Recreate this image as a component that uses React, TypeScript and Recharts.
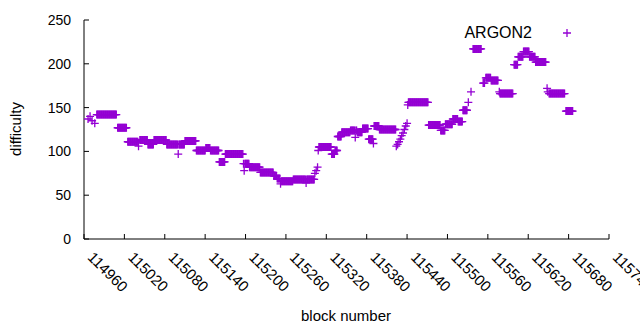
import React from "react";
import { ScatterChart, Scatter, XAxis, YAxis, Legend } from "recharts";

const FONT = "'Liberation Sans', Arial, sans-serif";
const PURPLE = "#9400d3";

const X_TICKS = [
  114960, 115020, 115080, 115140, 115200, 115260, 115320,
  115380, 115440, 115500, 115560, 115620, 115680, 115740,
];
const Y_TICKS = [0, 50, 100, 150, 200, 250];

// runs of blocks with the same difficulty (first block, last block, difficulty)
const RUN_FIRST = [
  114966, 114969, 114972, 114976, 114979, 115010, 115025, 115041, 115043, 115055,
  115064, 115083, 115100, 115101, 115110, 115127, 115141, 115148, 115161, 115170,
  115197, 115198, 115199, 115206, 115222, 115242, 115247, 115252, 115253, 115271,
  115290, 115291, 115303, 115305, 115307, 115308, 115309, 115328, 115333, 115337,
  115343, 115356, 115363, 115364, 115366, 115374, 115383, 115390, 115391, 115399,
  115424, 115426, 115428, 115430, 115432, 115434, 115436, 115438, 115440, 115441,
  115442, 115472, 115490, 115497, 115508, 115516, 115523, 115531, 115535, 115538,
  115553, 115557, 115565, 115577, 115578, 115599, 115605, 115613, 115622, 115631,
  115648, 115649, 115651, 115676,
];
const RUN_LAST = [
  114966, 114969, 114972, 114976, 115008, 115023, 115040, 115041, 115054, 115063,
  115082, 115099, 115100, 115109, 115126, 115140, 115147, 115160, 115169, 115196,
  115197, 115198, 115205, 115221, 115241, 115246, 115251, 115252, 115270, 115289,
  115290, 115302, 115303, 115305, 115307, 115308, 115327, 115332, 115336, 115342,
  115355, 115362, 115363, 115365, 115373, 115382, 115389, 115390, 115398, 115423,
  115424, 115426, 115428, 115430, 115432, 115434, 115436, 115438, 115440, 115441,
  115471, 115489, 115496, 115507, 115515, 115522, 115529, 115531, 115535, 115550,
  115555, 115564, 115575, 115577, 115597, 115604, 115612, 115621, 115630, 115646,
  115648, 115649, 115674, 115686,
];
const RUN_DIFF = [
  137, 140, 135, 132, 142, 127, 111, 106, 113, 108,
  113, 108, 97, 108, 112, 101, 104, 101, 88, 97,
  86, 78, 86, 82, 76, 72, 69, 63, 66, 68,
  64, 68, 75, 78, 82, 101, 105, 97, 101, 117,
  122, 124, 116, 124, 122, 126, 114, 109, 129, 125,
  106, 108, 111, 114, 118, 121, 125, 129, 132, 153,
  156, 130, 124, 131, 137, 134, 147, 156, 168, 217,
  178, 184, 181, 168, 166, 199, 208, 214, 208, 202,
  172, 168, 166, 146,
];

const points: { block: number; difficulty: number }[] = [];
RUN_FIRST.forEach((first, i) => {
  for (let b = first; b <= RUN_LAST[i]; b++) {
    points.push({ block: b, difficulty: RUN_DIFF[i] });
  }
});

function Plus({ cx, cy }: { cx?: number; cy?: number }) {
  if (cx == null || cy == null) return null;
  return (
    <path
      d={`M${cx - 4},${cy}H${cx + 4}M${cx},${cy - 4}V${cy + 4}`}
      stroke={PURPLE}
      strokeWidth={1.3}
      fill="none"
    />
  );
}

// gnuplot style: ticks point into the plot, labels outside
function BottomTick({ x, y, payload }: any) {
  const ty = y + 22;
  return (
    <g>
      <line x1={x} y1={y} x2={x} y2={y - 5} stroke="#000" />
      <text x={x} y={ty} dy={-4} transform={`rotate(45, ${x}, ${ty})`} fontSize={15} fontFamily={FONT} fill="#000">
        {payload.value}
      </text>
    </g>
  );
}

function TopTick({ x, y }: any) {
  return <line x1={x} y1={y} x2={x} y2={y + 5} stroke="#000" />;
}

function LeftTick({ x, y, payload }: any) {
  return (
    <g>
      <line x1={x} y1={y} x2={x + 5} y2={y} stroke="#000" />
      <text x={x - 13} y={y + 5} textAnchor="end" fontSize={14} fontFamily={FONT} fill="#000">
        {payload.value}
      </text>
    </g>
  );
}

function RightTick({ x, y }: any) {
  return <line x1={x} y1={y} x2={x - 5} y2={y} stroke="#000" />;
}

function AxisTitle({ tx, ty, rot, text }: any) {
  return (
    <text
      x={tx}
      y={ty}
      textAnchor="middle"
      transform={rot ? `rotate(${rot}, ${tx}, ${ty})` : undefined}
      fontSize={15}
      fontFamily={FONT}
      fill="#000"
    >
      {text}
    </text>
  );
}

const axisLine = { stroke: "#000", strokeWidth: 1 };

export default function App() {
  return (
    <div style={{ position: "absolute", left: 0, top: 0, background: "#fff" }}>
      <ScatterChart width={640} height={330} margin={{ top: 20, right: 31, bottom: 0, left: 0 }}>
        <XAxis
          dataKey="block"
          type="number"
          domain={[114960, 115740]}
          ticks={X_TICKS}
          interval={0}
          height={91}
          tickSize={0}
          tickMargin={0}
          tickLine={false}
          axisLine={axisLine}
          tick={<BottomTick />}
          allowDataOverflow
          label={<AxisTitle tx={346} ty={321} text="block number" />}
        />
        <XAxis
          xAxisId="top"
          orientation="top"
          dataKey="block"
          type="number"
          domain={[114960, 115740]}
          ticks={X_TICKS}
          interval={0}
          height={0}
          tickSize={0}
          tickMargin={0}
          tickLine={false}
          axisLine={axisLine}
          tick={<TopTick />}
        />
        <YAxis
          dataKey="difficulty"
          type="number"
          domain={[0, 250]}
          ticks={Y_TICKS}
          interval={0}
          width={84}
          tickSize={0}
          tickMargin={0}
          tickLine={false}
          axisLine={axisLine}
          tick={<LeftTick />}
          allowDataOverflow
          label={<AxisTitle tx={21} ty={129} rot={-90} text="difficulty" />}
        />
        <YAxis
          yAxisId="right"
          orientation="right"
          dataKey="difficulty"
          type="number"
          domain={[0, 250]}
          ticks={Y_TICKS}
          interval={0}
          width={0}
          tickSize={0}
          tickMargin={0}
          tickLine={false}
          axisLine={axisLine}
          tick={<RightTick />}
        />
        <Legend
          layout="vertical"
          align="center"
          verticalAlign="middle"
          wrapperStyle={{ top: 22, left: 440, width: 150, height: 22 }}
          content={() => (
            <svg width={150} height={22}>
              <text x={92} y={16} textAnchor="end" fontSize={16} fontFamily={FONT} fill="#000">
                ARGON2
              </text>
              <Plus cx={127} cy={11} />
            </svg>
          )}
        />
        <Scatter
          name="ARGON2"
          data={points}
          fill={PURPLE}
          shape={(p: any) => <Plus cx={p.cx} cy={p.cy} />}
          isAnimationActive={false}
        />
      </ScatterChart>
    </div>
  );
}
